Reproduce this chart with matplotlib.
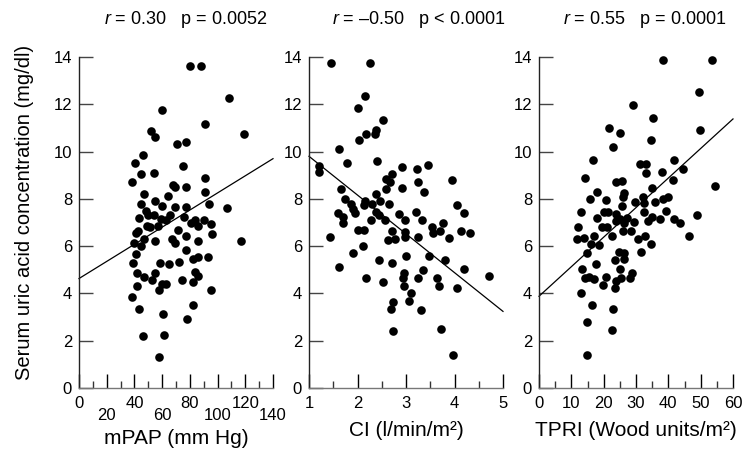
import matplotlib
matplotlib.use("Agg")
import matplotlib.pyplot as plt
import numpy as np

plt.rcParams['font.family'] = ['Liberation Sans', 'DejaVu Sans']
plt.rcParams['mathtext.fontset'] = 'custom'
plt.rcParams['mathtext.rm'] = 'Liberation Sans'
plt.rcParams['mathtext.it'] = 'Liberation Sans:italic'

# ---- Panel 1: mPAP vs uric acid ----
mpap = [80, 87.8, 108, 119, 60, 90.7, 52, 55, 71, 77, 40.7, 75, 46, 38.5, 45, 54, 68, 69, 77, 91,
        46.7, 64, 91, 45, 55, 48, 60, 69, 77, 93.5, 107, 43, 50, 54, 59, 63, 65.5, 76, 81, 84,
        90.5, 95, 49, 51, 57, 86, 42.6, 71.6, 41, 77.3, 96, 47, 67, 40, 55, 69, 85.6, 117, 45, 77,
        41, 86, 93, 82, 39, 58.6, 65, 72, 55, 42, 83.5, 47, 86, 52.6, 74, 82, 59.6, 63, 41.9, 58,
        95, 38.5, 43, 82, 60.5, 78, 46, 61, 58]
ua_mpap = [13.6, 13.6, 12.25, 10.75, 11.75, 11.15, 10.85, 10.6, 10.3, 10.4, 9.5, 9.4, 9.85, 8.7, 9.05, 9.1, 8.6, 8.5, 8.5, 8.9,
           8.2, 8.1, 8.3, 7.8, 7.9, 7.5, 7.7, 7.65, 7.65, 7.8, 7.6, 7.2, 7.3, 7.3, 7.15, 7.1, 7.3, 7.25, 7.0, 7.1,
           7.1, 6.95, 6.85, 6.8, 6.85, 6.85, 6.65, 6.7, 6.55, 6.45, 6.5, 6.3, 6.3, 6.15, 6.2, 6.15, 6.2, 6.2, 6.0, 5.85,
           5.65, 5.55, 5.55, 5.45, 5.3, 5.3, 5.25, 5.35, 4.85, 4.85, 4.9, 4.7, 4.75, 4.55, 4.55, 4.5, 4.4, 4.4, 4.3, 4.15,
           4.15, 3.85, 3.35, 3.5, 3.15, 2.9, 2.2, 2.25, 1.3]
fit_mpap = [4.63, 9.70]          # regression line values at x = 0 and x = 140

# ---- Panel 2: CI vs uric acid ----
ci = [1.45, 2.26, 2.15, 2.01, 2.52, 2.39, 2.37, 2.17, 2.03, 1.62, 2.41, 1.79, 1.21, 1.21, 2.92, 3.45, 3.22, 2.72, 2.59, 2.67,
      2.91, 3.25, 3.94, 1.65, 3.38, 2.59, 2.39, 1.75, 1.86, 1.9, 2.16, 2.13, 2.3, 2.46, 2.65, 4.05, 4.2, 1.6, 1.71, 1.95,
      2.39, 2.44, 2.86, 3.2, 2.28, 2.56, 2.98, 3.34, 1.7, 3.76, 3.53, 3.56, 3.7, 4.31, 4.13, 2.02, 2.14, 2.71, 2.97, 2.97,
      1.44, 2.63, 2.77, 3.24, 3.88, 2.11, 1.9, 3.0, 3.48, 2.45, 3.8, 2.72, 1.62, 3.35, 4.19, 2.96, 2.94, 3.25, 3.64, 4.72,
      2.17, 2.52, 2.96, 3.68, 4.05, 3.11, 3.06, 2.74, 2.69, 3.3, 2.74, 3.72, 3.97]
ua_ci = [13.75, 13.75, 12.35, 11.85, 11.35, 10.9, 10.75, 10.75, 10.5, 10.1, 9.6, 9.5, 9.4, 9.15, 9.35, 9.45, 9.25, 9.05, 8.85, 8.7,
         8.45, 8.7, 8.8, 8.4, 8.3, 8.4, 8.2, 8.0, 7.8, 7.55, 7.9, 7.75, 7.8, 7.9, 7.8, 7.75, 7.4, 7.4, 7.25, 7.4,
         7.45, 7.3, 7.35, 7.45, 7.1, 7.1, 7.1, 7.1, 7.0, 7.0, 6.8, 6.55, 6.65, 6.55, 6.65, 6.7, 6.7, 6.65, 6.6, 6.4,
         6.4, 6.25, 6.3, 6.4, 6.35, 6.0, 5.7, 5.6, 5.6, 5.4, 5.4, 5.3, 5.1, 5.0, 5.05, 4.85, 4.65, 4.65, 4.65, 4.75,
         4.65, 4.5, 4.3, 4.3, 4.25, 4.0, 3.7, 3.65, 3.35, 3.3, 2.4, 2.5, 1.4]
fit_ci = [9.80, 3.24]            # regression line values at x = 1 and x = 5

# ---- Panel 3: TPRI vs uric acid ----
tpri = [38.2, 53.5, 49.4, 29.2, 35.4, 21.6, 25.1, 34.7, 49.7, 22.8, 16.8, 41.6, 31.1, 33.1, 33.0, 38.1, 44.4, 41.5, 14.1, 23.9,
        25.7, 34.9, 54.3, 26.4, 26.1, 17.8, 15.9, 20.6, 32.2, 32.5, 29.6, 25.7, 35.9, 38.4, 39.9, 12.9, 20.0, 21.2, 23.8, 32.5,
        39.2, 18.0, 27.3, 35.0, 33.6, 37.5, 41.7, 43.5, 23.7, 25.0, 26.4, 29.5, 12.1, 19.4, 20.9, 48.8, 25.9, 28.5, 17.0, 22.6,
        11.8, 13.9, 30.7, 32.9, 46.5, 16.2, 18.6, 34.7, 31.4, 14.8, 24.6, 26.3, 26.3, 23.6, 17.5, 13.4, 25.1, 28.9, 15.6, 17.1,
        14.1, 20.7, 25.4, 28.0, 23.9, 23.5, 19.9, 12.9, 16.4, 22.8, 14.9, 22.6, 14.7]
ua_tpri = [13.86, 13.86, 12.5, 11.96, 11.4, 11.0, 10.77, 10.5, 10.9, 10.2, 9.65, 9.65, 9.46, 9.46, 9.1, 9.14, 9.25, 8.79, 8.9, 8.7,
           8.76, 8.48, 8.55, 8.24, 8.06, 8.28, 7.99, 7.94, 8.06, 7.82, 7.85, 7.7, 7.85, 7.99, 8.07, 7.45, 7.44, 7.45, 7.38, 7.46,
           7.5, 7.18, 7.17, 7.25, 7.07, 7.14, 7.15, 7.0, 7.06, 7.14, 6.97, 7.04, 6.83, 6.79, 6.79, 7.3, 6.63, 6.63, 6.45, 6.42,
           6.32, 6.34, 6.32, 6.44, 6.44, 6.08, 6.06, 6.08, 5.75, 5.7, 5.75, 5.69, 5.46, 5.42, 5.24, 5.03, 5.04, 4.86, 4.7, 4.63,
           4.65, 4.68, 4.66, 4.65, 4.51, 4.25, 4.34, 4.01, 3.49, 3.34, 2.79, 2.46, 1.39]
fit_tpri = [3.88, 11.38]         # regression line values at x = 0 and x = 60

titles = [r"$\it{r}$ = 0.30   p = 0.0052",
          r"$\it{r}$ = –0.50   p < 0.0001",
          r"$\it{r}$ = 0.55   p = 0.0001"]
xlabels = ["mPAP (mm Hg)", "CI (l/min/m²)", "TPRI (Wood units/m²)"]
ylabel = "Serum uric acid concentration (mg/dl)"
yticks = [0, 2, 4, 6, 8, 10, 12, 14]

fig = plt.figure(figsize=(7.42, 4.53), dpi=100)

W, H = 742, 453
ax_left_px = [79, 309, 539]
ax_w_px = 194
ax_bot_px = 388
ax_top_px = 57

panels = [
    dict(x=mpap, y=ua_mpap, fitx=[0, 140], fity=fit_mpap, xlim=(0, 140),
         major=list(range(0, 141, 20)), minor=list(range(10, 140, 20))),
    dict(x=ci, y=ua_ci, fitx=[1, 5], fity=fit_ci, xlim=(1, 5),
         major=[1, 2, 3, 4, 5], minor=[1.5, 2.5, 3.5, 4.5]),
    dict(x=tpri, y=ua_tpri, fitx=[0, 60], fity=fit_tpri, xlim=(0, 60),
         major=list(range(0, 61, 10)), minor=list(range(5, 60, 10))),
]
title_cx = [186, 419, 645]
xlabel_cy = [438, 431, 431]

for i, p in enumerate(panels):
    ax = fig.add_axes([ax_left_px[i] / W, (H - ax_bot_px) / H,
                       ax_w_px / W, (ax_bot_px - ax_top_px) / H])
    ax.plot(p['x'], p['y'], 'o', color='black', markersize=6.2, markeredgewidth=0, clip_on=False)
    ax.plot(p['fitx'], p['fity'], '-', color='black', linewidth=0.9, clip_on=False)
    ax.set_xlim(*p['xlim'])
    ax.set_ylim(0, 14)
    ax.set_yticks(yticks)
    ax.set_xticks(p['major'])
    ax.set_xticks(p['minor'], minor=True)
    ax.set_xticklabels([f"{v:g}" for v in p['major']])
    for s in ['top', 'right']:
        ax.spines[s].set_visible(False)
    ax.spines['left'].set_color('#222222')
    ax.spines['left'].set_linewidth(1.0)
    ax.spines['bottom'].set_color('#777777')
    ax.spines['bottom'].set_linewidth(1.0)
    ax.tick_params(axis='y', direction='in', length=10, width=1.0, color='#444444',
                   labelsize=12, pad=5)
    ax.tick_params(axis='x', which='major', direction='in', length=10, width=1.0, color='black',
                   labelsize=12, pad=6)
    ax.tick_params(axis='x', which='minor', direction='in', length=5, width=1.0, color='#333333')
    if i == 0:
        for j, t in enumerate(ax.xaxis.get_major_ticks()):
            if j % 2 == 1:
                t.set_pad(14.5)
    ax.set_xlabel(xlabels[i], fontsize=15)
    ax.xaxis.set_label_coords(0.5, -(xlabel_cy[i] - ax_bot_px) / (ax_bot_px - ax_top_px))
    ax.xaxis.label.set_va('center')
    if i == 0:
        ax.set_ylabel(ylabel, fontsize=14.5)
        ax.yaxis.set_label_coords((25 - ax_left_px[0]) / ax_w_px, 0.53)
        ax.yaxis.label.set_va('center')
    fig.text(title_cx[i] / W, 1 - 20 / H, titles[i], ha='center', va='center', fontsize=13)

fig.savefig("out.png", dpi=100)
